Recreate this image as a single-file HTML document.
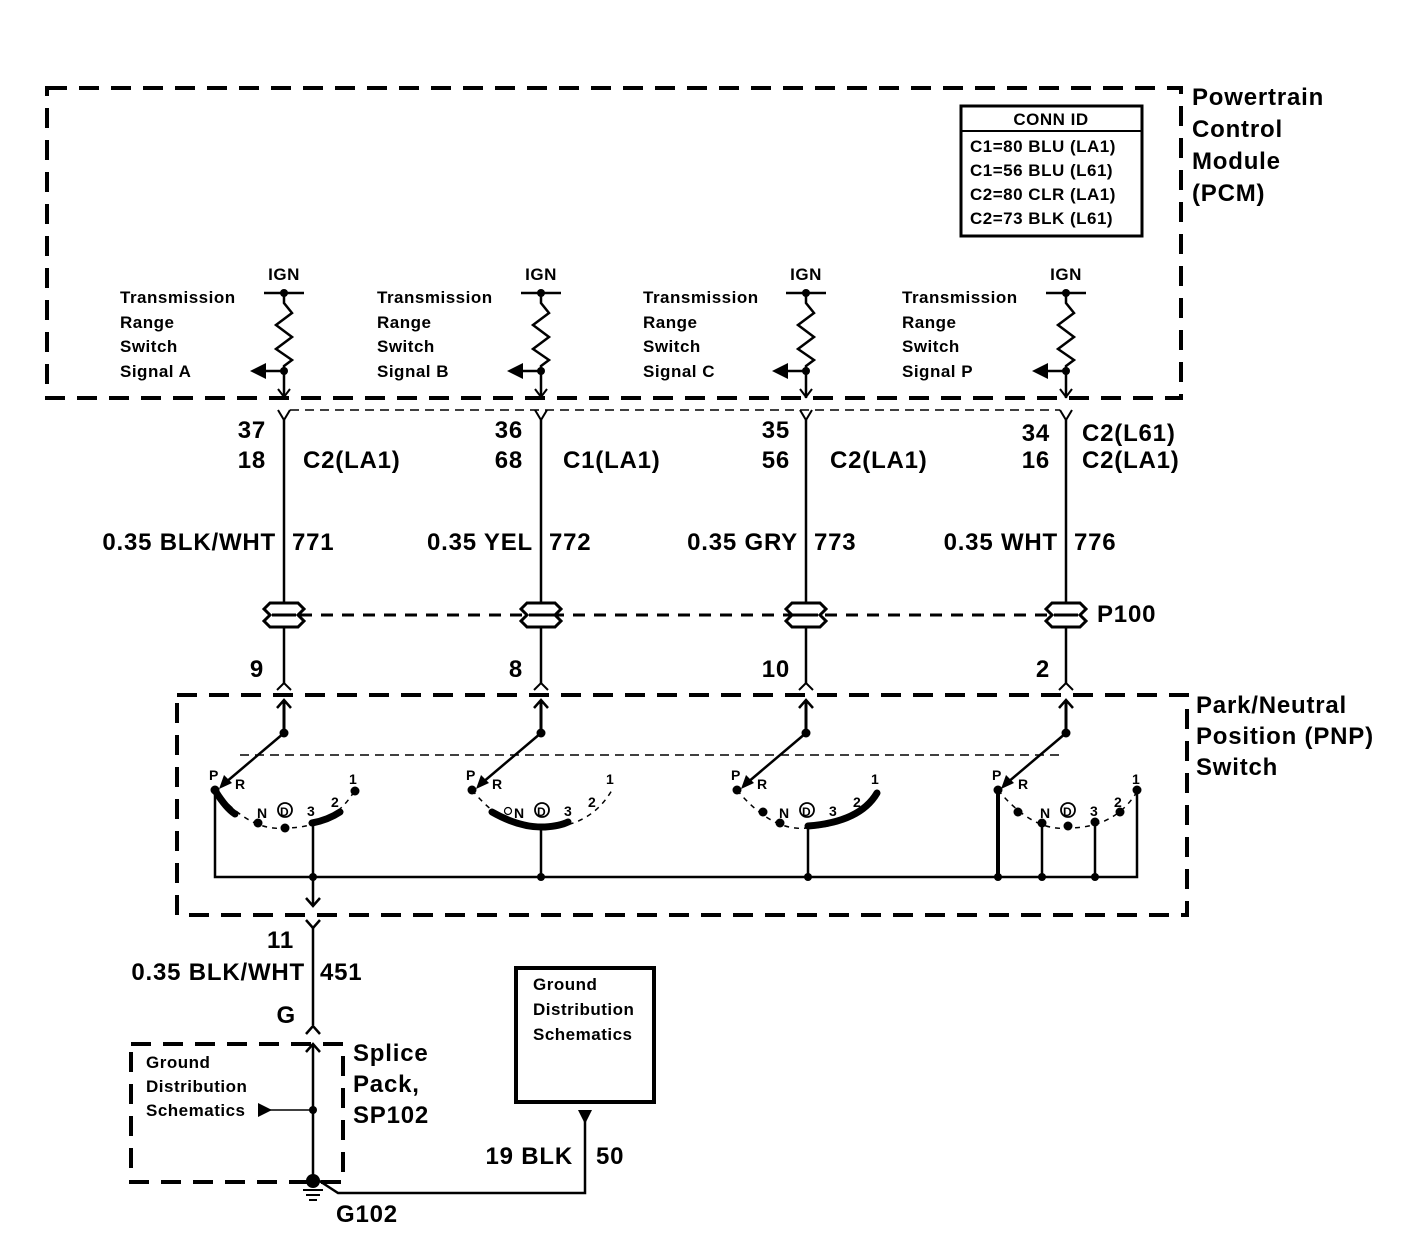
<!DOCTYPE html>
<html><head><meta charset="utf-8"><style>
html,body{margin:0;padding:0;background:#fff}
svg{display:block}
text{font-family:"Liberation Sans",Arial,sans-serif;fill:#000;font-weight:bold;letter-spacing:0.5px}
.s{font-size:17px}
.m{font-size:24px;letter-spacing:0.8px}
.l{font-size:25px}
.p{font-size:14px;font-weight:bold;letter-spacing:0}
</style></head><body>
<svg width="1408" height="1248" viewBox="0 0 1408 1248" xmlns="http://www.w3.org/2000/svg">
<defs>
<g id="col">
  <line x1="-20" y1="293" x2="20" y2="293" stroke="#000" stroke-width="2.5"/>
  <circle cx="0" cy="293" r="4"/>
  <polyline points="0,293 0,303 8,313 -8,325 8,337 -8,349 8,360 0,366 0,398" fill="none" stroke="#000" stroke-width="2.5"/>
  <circle cx="0" cy="371" r="4"/>
  <line x1="0" y1="371" x2="-20" y2="371" stroke="#000" stroke-width="2.5"/>
  <polygon points="-34,371 -18,363 -18,379"/>
  <polyline points="-6,389 0,397 6,389" fill="none" stroke="#000" stroke-width="2"/>
  <polyline points="-6,410 0,420 6,410" fill="none" stroke="#000" stroke-width="2"/>
  <line x1="0" y1="420" x2="0" y2="604" stroke="#000" stroke-width="2.5"/>
  <path d="M-20,609 L-14,603 L14,603 L20,609 L14,615 L20,621 L14,627 L-14,627 L-20,621 L-14,615 Z" fill="none" stroke="#000" stroke-width="3"/>
  <line x1="-12" y1="615" x2="12" y2="615" stroke="#000" stroke-width="3"/>
  <line x1="0" y1="627" x2="0" y2="684" stroke="#000" stroke-width="2.5"/>
  <polyline points="-7,690 0,683 7,690" fill="none" stroke="#000" stroke-width="2"/>
  <polyline points="-7,708 0,700 7,708" fill="none" stroke="#000" stroke-width="2.5"/>
  <line x1="0" y1="700" x2="0" y2="733" stroke="#000" stroke-width="3"/>
  <circle cx="0" cy="733" r="4.5"/>
</g>
<g id="arc">
  <path d="M0,0 Q35,42 70,38 Q118,38 140,0" fill="none" stroke="#000" stroke-width="1.5" stroke-dasharray="5,5"/>
  <circle cx="0" cy="0" r="4.5"/>
  <text class="p" x="-6" y="-10">P</text>
  <text class="p" x="20" y="-1">R</text>
  <text class="p" x="42" y="28">N</text>
  <circle cx="70" cy="20" r="7" fill="#fff" stroke="#000" stroke-width="1.8"/>
  <text class="p" x="65" y="26" style="font-size:12px">D</text>
  <text class="p" x="92" y="26">3</text>
  <text class="p" x="116" y="17">2</text>
  <text class="p" x="134" y="-6">1</text>
</g>
</defs>

<rect x="47" y="88" width="1134" height="310" fill="none" stroke="#000" stroke-width="4" stroke-dasharray="20,12"/>
<text class="m" x="1192" y="105">Powertrain</text>
<text class="m" x="1192" y="137">Control</text>
<text class="m" x="1192" y="169">Module</text>
<text class="m" x="1192" y="201">(PCM)</text>

<rect x="961" y="106" width="181" height="130" fill="none" stroke="#000" stroke-width="3"/>
<line x1="961" y1="131" x2="1142" y2="131" stroke="#000" stroke-width="2"/>
<text class="s" x="1051" y="125" text-anchor="middle">CONN ID</text>
<text class="s" x="970" y="152">C1=80 BLU (LA1)</text>
<text class="s" x="970" y="176">C1=56 BLU (L61)</text>
<text class="s" x="970" y="200">C2=80 CLR (LA1)</text>
<text class="s" x="970" y="224">C2=73 BLK (L61)</text>

<text class="s" x="120" y="303">Transmission</text><text class="s" x="120" y="328">Range</text><text class="s" x="120" y="352">Switch</text><text class="s" x="120" y="377">Signal A</text>
<text class="s" x="377" y="303">Transmission</text><text class="s" x="377" y="328">Range</text><text class="s" x="377" y="352">Switch</text><text class="s" x="377" y="377">Signal B</text>
<text class="s" x="643" y="303">Transmission</text><text class="s" x="643" y="328">Range</text><text class="s" x="643" y="352">Switch</text><text class="s" x="643" y="377">Signal C</text>
<text class="s" x="902" y="303">Transmission</text><text class="s" x="902" y="328">Range</text><text class="s" x="902" y="352">Switch</text><text class="s" x="902" y="377">Signal P</text>
<text class="s" x="284" y="280" text-anchor="middle">IGN</text>
<text class="s" x="541" y="280" text-anchor="middle">IGN</text>
<text class="s" x="806" y="280" text-anchor="middle">IGN</text>
<text class="s" x="1066" y="280" text-anchor="middle">IGN</text>

<line x1="290" y1="410" x2="1060" y2="410" stroke="#000" stroke-width="1.5" stroke-dasharray="9,6"/>
<line x1="300" y1="615" x2="1050" y2="615" stroke="#000" stroke-width="3" stroke-dasharray="12,9"/>

<use href="#col" x="284"/>
<use href="#col" x="541"/>
<use href="#col" x="806"/>
<use href="#col" x="1066"/>

<text class="m" x="266" y="438" text-anchor="end">37</text><text class="m" x="266" y="468" text-anchor="end">18</text><text class="m" x="303" y="468">C2(LA1)</text>
<text class="m" x="523" y="438" text-anchor="end">36</text><text class="m" x="523" y="468" text-anchor="end">68</text><text class="m" x="563" y="468">C1(LA1)</text>
<text class="m" x="790" y="438" text-anchor="end">35</text><text class="m" x="790" y="468" text-anchor="end">56</text><text class="m" x="830" y="468">C2(LA1)</text>
<text class="m" x="1050" y="441" text-anchor="end">34</text><text class="m" x="1050" y="468" text-anchor="end">16</text><text class="m" x="1082" y="441">C2(L61)</text><text class="m" x="1082" y="468">C2(LA1)</text>

<text class="m" x="276" y="550" text-anchor="end">0.35 BLK/WHT</text><text class="m" x="292" y="550">771</text>
<text class="m" x="533" y="550" text-anchor="end">0.35 YEL</text><text class="m" x="549" y="550">772</text>
<text class="m" x="798" y="550" text-anchor="end">0.35 GRY</text><text class="m" x="814" y="550">773</text>
<text class="m" x="1058" y="550" text-anchor="end">0.35 WHT</text><text class="m" x="1074" y="550">776</text>
<text class="m" x="1097" y="622">P100</text>

<text class="m" x="264" y="677" text-anchor="end">9</text>
<text class="m" x="523" y="677" text-anchor="end">8</text>
<text class="m" x="790" y="677" text-anchor="end">10</text>
<text class="m" x="1050" y="677" text-anchor="end">2</text>

<rect x="177" y="695" width="1010" height="220" fill="none" stroke="#000" stroke-width="4" stroke-dasharray="20,12"/>
<text class="m" x="1196" y="713">Park/Neutral</text>
<text class="m" x="1196" y="744">Position (PNP)</text>
<text class="m" x="1196" y="775">Switch</text>
<line x1="240" y1="755" x2="1060" y2="755" stroke="#000" stroke-width="1.5" stroke-dasharray="9,6"/>

<g stroke="#000" stroke-width="2.5" fill="none">
<line x1="284" y1="733" x2="225" y2="783"/>
<line x1="541" y1="733" x2="482" y2="783"/>
<line x1="806" y1="733" x2="747" y2="783"/>
<line x1="1066" y1="733" x2="1007" y2="783"/>
</g>
<polygon points="219,789 224,775 232,783"/>
<polygon points="476,789 481,775 489,783"/>
<polygon points="741,789 746,775 754,783"/>
<polygon points="1001,789 1006,775 1014,783"/>

<use href="#arc" x="215" y="790"/>
<use href="#arc" x="472" y="790"/>
<use href="#arc" x="737" y="790"/>
<use href="#arc" x="998" y="790"/>

<g stroke="#000" stroke-width="7" fill="none" stroke-linecap="round">
<path d="M216,792 Q226,808 235,814"/>
<path d="M312,823 Q328,820 340,812"/>
<path d="M492,812 Q520,828 545,827 Q560,826 568,822"/>
<path d="M808,826 Q860,822 877,793"/>
</g>
<circle cx="258" cy="823" r="4.5"/><circle cx="285" cy="828" r="4.5"/><circle cx="355" cy="791" r="4.5"/>
<circle cx="763" cy="812" r="4.5"/><circle cx="780" cy="823" r="4.5"/>
<circle cx="1018" cy="812" r="4.5"/><circle cx="1042" cy="823" r="4.5"/><circle cx="1068" cy="826" r="4.5"/><circle cx="1095" cy="822" r="4.5"/><circle cx="1120" cy="812" r="4.5"/><circle cx="1137" cy="790" r="4.5"/>
<circle cx="508" cy="811" r="3.5" fill="#fff" stroke="#000" stroke-width="1.2"/>

<g stroke="#000" stroke-width="2.5" fill="none">
<polyline points="215,790 215,877 1137,877 1137,790"/>
<line x1="313" y1="822" x2="313" y2="905"/>
<line x1="541" y1="826" x2="541" y2="877"/>
<line x1="808" y1="826" x2="808" y2="877"/>
<line x1="998" y1="790" x2="998" y2="877" stroke-width="4"/>
<line x1="1042" y1="823" x2="1042" y2="877"/>
<line x1="1095" y1="822" x2="1095" y2="877"/>
<polyline points="306,898 313,906 320,898"/>
<polyline points="306,920 313,928 320,920"/>
<line x1="313" y1="928" x2="313" y2="1025"/>
<polyline points="306,1034 313,1026 320,1034"/>
<polyline points="306,1052 313,1044 320,1052"/>
<line x1="313" y1="1044" x2="313" y2="1180"/>
<line x1="270" y1="1110" x2="313" y2="1110" stroke-width="1.5"/>
<polyline points="318,1180 338,1193 585,1193 585,1118"/>
</g>
<circle cx="313" cy="877" r="4"/><circle cx="541" cy="877" r="4"/><circle cx="808" cy="877" r="4"/>
<circle cx="998" cy="877" r="4"/><circle cx="1042" cy="877" r="4"/><circle cx="1095" cy="877" r="4"/>
<circle cx="313" cy="1110" r="4"/>
<circle cx="313" cy="1181" r="7"/>
<polygon points="258,1103 258,1117 272,1110"/>
<polygon points="578,1110 592,1110 585,1124"/>
<g stroke="#000" stroke-width="2">
<line x1="303" y1="1190" x2="323" y2="1190"/>
<line x1="306" y1="1195" x2="320" y2="1195"/>
<line x1="309" y1="1200" x2="317" y2="1200"/>
</g>

<text class="m" x="294" y="948" text-anchor="end">11</text>
<text class="m" x="305" y="980" text-anchor="end">0.35 BLK/WHT</text>
<text class="m" x="320" y="980">451</text>
<text class="m" x="296" y="1023" text-anchor="end">G</text>

<rect x="131" y="1044" width="212" height="138" fill="none" stroke="#000" stroke-width="4" stroke-dasharray="20,12"/>
<text class="s" x="146" y="1068">Ground</text>
<text class="s" x="146" y="1092">Distribution</text>
<text class="s" x="146" y="1116">Schematics</text>
<text class="m" x="353" y="1061">Splice</text>
<text class="m" x="353" y="1092">Pack,</text>
<text class="m" x="353" y="1123">SP102</text>
<text class="m" x="336" y="1222">G102</text>

<rect x="516" y="968" width="138" height="134" fill="none" stroke="#000" stroke-width="4"/>
<text class="s" x="533" y="990">Ground</text>
<text class="s" x="533" y="1015">Distribution</text>
<text class="s" x="533" y="1040">Schematics</text>
<text class="m" x="573" y="1164" text-anchor="end">19 BLK</text>
<text class="m" x="596" y="1164">50</text>
</svg>
</body></html>
